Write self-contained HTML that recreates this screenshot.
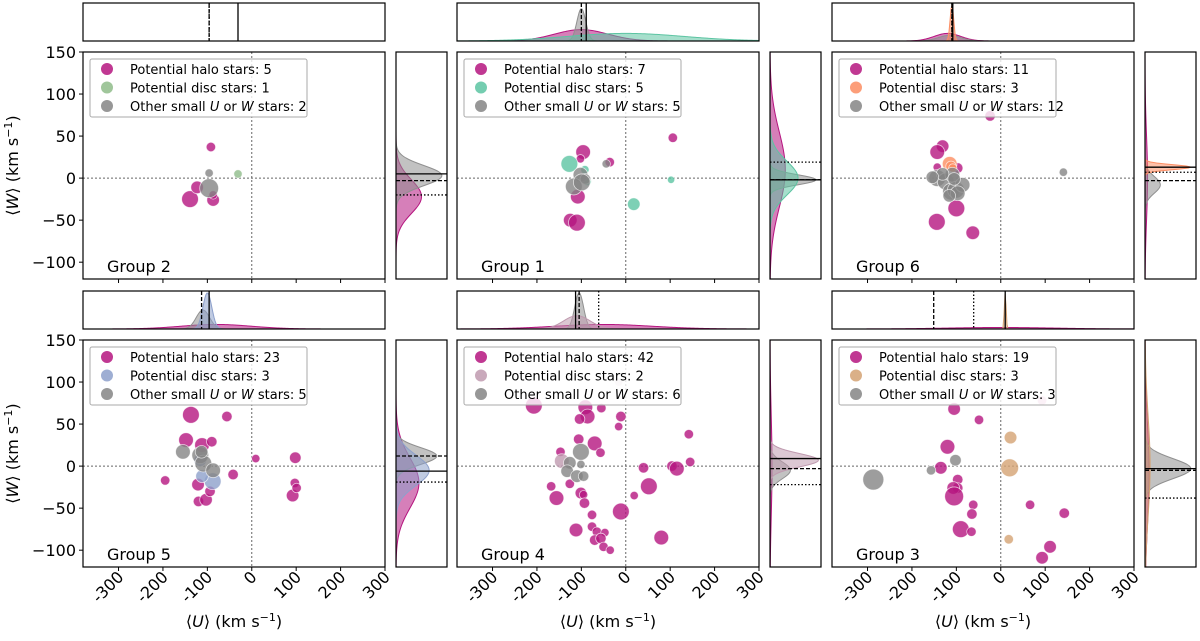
<!DOCTYPE html>
<html><head><meta charset="utf-8">
<style>
html,body{margin:0;padding:0;background:#fff;}
svg{display:block;font-family:"DejaVu Sans","Liberation Sans",sans-serif;}
</style></head>
<body>
<svg id="fig" width="1200" height="641" viewBox="0 0 1200 641" xmlns="http://www.w3.org/2000/svg"></svg>
<script>
// ---- data arrays ----
const groupNames = ["Group 2","Group 1","Group 6","Group 5","Group 4","Group 3"];
const haloCounts = [5,7,11,23,42,19];
const discCounts = [1,5,3,3,2,3];
const otherCounts = [2,5,12,5,6,3];
const discColors = ["#8fbc8a","#5cc4a2","#fc8d62","#8da0cb","#bf9aaf","#d4a273"];
// points: [U, W, size]
const haloPts = [
 [[-92,37,4.5],[-139,-25,8],[-123,-11,6],[-87,-26,6],[-87,-20,4]],
 [[106,48,4.5],[-96,31,7],[-102,23,4],[-36,19,4.5],[-108,-22,7],[-125,-50,6.5],[-110,-53,8]],
 [[-24,74,5],[-131,38,6],[-143,31,7],[-97,12,5],[-143,13,4],[-100,-36,8],[-144,-52,8],[-63,-65,6.5]],
 [[-137,61,8],[-56,59,5],[-148,31,7],[-112,25,7],[-90,29,5],[9,9,4],[98,10,5.5],[-195,-17,4.5],[-42,-10,5],[97,-20,4.5],[92,-35,6],[-121,-22,6],[-120,-42,5],[-103,-40,6],[101,-26,4.5],[-94,-30,5]],
 [[-207,72,8],[-91,70,7],[-86,59,7],[-104,56,5],[-55,69,4.5],[-11,59,5],[-16,47,4],[-106,32,5],[-70,27,7],[-57,16,4.5],[-147,17,4.5],[142,38,4.5],[145,5,4.5],[40,-2,5],[104,0,5],[115,-3,7],[52,-24,8],[19,-35,4],[-168,-24,4.5],[-156,-38,7],[-126,-21,4.5],[-101,-32,5.5],[-95,-34,4],[-93,-44,5],[-76,-58,4.5],[-11,-54,8],[-112,-76,6.5],[-76,-72,4.5],[-65,-78,4.5],[-47,-79,4],[-70,-88,5],[-56,-86,5],[-50,-96,4.5],[-35,-100,4],[80,-85,7]],
 [[-105,68,6],[-49,55,4.5],[-120,23,7],[-135,-2,6],[-97,-16,5],[-97,-26,5],[-107,-26,6],[-105,-36,9],[-62,-46,4.5],[-65,-57,5],[-90,-75,8],[-66,-78,4.5],[66,-46,4.5],[143,-56,5],[111,-96,6],[93,-109,6],[93,78,4.5]]
];
const discPts = [
 [[-31,5,4]],
 [[-127,17,8],[-92,10,4],[102,-2,3.5],[18,-31,6],[-87,-4,4]],
 [[-115,17,7],[-112,14,5],[-108,12,4]],
 [[-88,-18,8],[-116,7,6],[-112,-12,6]],
 [[-16,100,4],[-144,6,7]],
 [[22,34,6],[20,-2,8.5],[18,-87,4.5]]
];
const otherPts = [
 [[-96,6,4],[-96,-12,9]],
 [[-44,17,4],[-102,4,7],[-91,-1,5],[-117,-10,8],[-99,-5,8]],
 [[141,7,4],[-143,0,8],[-124,-4,8],[-109,4,7],[-112,-16,8],[-101,-14,8],[-86,-8,7],[-131,5,6],[-97,-18,7],[-105,-1,6],[-154,1,6],[-116,-21,6]],
 [[-155,17,7],[-116,13,8],[-109,3,8],[-87,-5,7],[-113,17,6]],
 [[-101,17,8],[-126,4,6],[-132,-6,6],[-110,-12,6],[-95,-12,5],[-101,2,4]],
 [[-287,-16,10],[-157,-5,4.5],[-102,7,5.5]]
];
// marginal density components: [mean, sigma, peak]
const topHalo = [[0,1,0],[-100,60,0.3],[-120,30,0.2],[-80,80,0.12],[-50,110,0.12],[0,120,0.04]];
const topDisc = [[0,1,0],[0,130,0.2],[-110,4,0.95],[-100,10,0.95],[-110,30,0.35],[10,2,0.95]];
const topOther = [[0,1,0],[-100,10,0.85],[-115,25,0.15],[-110,15,0.5],[-105,10,0.95],[0,1,0]];
const rightHalo = [[-22,20,0.5],[10,45,0.3],[0,50,0.05],[-20,30,0.45],[0,60,0.04],[-10,60,0.08]];
const rightDisc = [[5,8,0],[0,20,0.55],[13,3,0.9],[-5,18,0.65],[7,8,0.95],[0,60,0.1]];
const rightOther = [[3,12,0.9],[-2,6,0.9],[-8,10,0.3],[12,10,0.8],[-5,10,0.4],[-3,12,0.9]];
// mean lines: [solid, dashed, dotted]
const topLines = [[-31,-96,-96],[-89,-100,null],[-108,-110,-110],[-96,-113,null],[-113,-105,-61],[10,-151,-61]];
const rightLines = [[5,-3,-20],[-2,-2,19],[13,-3,7],[-6,12,-19],[9,-3,-22],[-3,-5,-38]];
const xTicks = [-300,-200,-100,0,100,200,300];
const yTicks = [150,100,50,0,-50,-100];

// ---- layout ----
const NS="http://www.w3.org/2000/svg";
const svg=document.getElementById('fig');
const colX=[83,457,832], rowY=[52,340];
const PW=302, PH=227, XMIN=-380, XMAX=300, YMIN=-120, YMAX=150;
const HALO="#b5157f";
function mk(tag,attrs,parent){const e=document.createElementNS(NS,tag);for(const k in attrs)e.setAttribute(k,attrs[k]);(parent||svg).appendChild(e);return e;}
function gauss(c,v){return c[2]*Math.exp(-0.5*Math.pow((v-c[0])/c[1],2));}

for(let g=0;g<6;g++){
  const x0=colX[g%3], y0=rowY[Math.floor(g/3)];
  const sx=u=>x0+(u-XMIN)/(XMAX-XMIN)*PW;
  const sy=w=>y0+(YMAX-w)/(YMAX-YMIN)*PH;
  const grp=mk('g',{});
  
  
  const zl=mk('line',{x1:sx(0),x2:sx(0),y1:y0,y2:y0+PH,stroke:'#666','stroke-width':1,'stroke-dasharray':'2,2'},grp);
  
  
  const zw=mk('line',{x1:x0,x2:x0+PW,y1:sy(0),y2:sy(0),stroke:'#666','stroke-width':1,'stroke-dasharray':'2,2'},grp);
  
  
  const sets=[[haloPts[g],HALO,'halo'],[discPts[g],discColors[g],'disc'],[otherPts[g],'#858585','other']];
  for(const [pts,col,nm] of sets){
    for(const p of pts){
      const c=mk('circle',{cx:sx(p[0]),cy:sy(p[1]),r:p[2]*1.05,fill:col,'fill-opacity':(p[1]>70&&nm!=='other'&&p[2]<5?0.3:0.8),stroke:'#fff','stroke-opacity':0.7,'stroke-width':0.8},grp);
      
      
    }
  }
  const fr=mk('rect',{x:x0,y:y0,width:PW,height:PH,fill:'none',stroke:'#000','stroke-width':1.2},grp);
  
  
  for(const t of xTicks){
    mk('line',{x1:sx(t),x2:sx(t),y1:y0+PH,y2:y0+PH+4,stroke:'#000'},grp);
    if(g>=3){
      const tx=mk('text',{x:0,y:0,'font-size':16,'text-anchor':'end',transform:`translate(${sx(t)+6},${y0+PH+11}) rotate(-45)`},grp);
      tx.textContent=String(t);
      
      
    }
  }
  if(g%3===0){
    for(const t of yTicks){
      mk('line',{x1:x0-4,x2:x0,y1:sy(t),y2:sy(t),stroke:'#000'},grp);
      const ty=mk('text',{x:x0-7,y:sy(t)+6,'font-size':16,'text-anchor':'end'},grp);
      ty.textContent=t<0?'\u2212'+(-t):String(t);
      
      
    }
  }
  if(g>=3){
    const xl=mk('text',{x:x0+PW/2,y:y0+PH+60,'font-size':16,'text-anchor':'middle'},grp);
    xl.innerHTML='\u27E8<tspan font-style="italic">U</tspan>\u27E9 (km s<tspan dy="-6" font-size="11">\u22121</tspan><tspan dy="6">)</tspan>';
    
    
  }
  const gl=mk('text',{x:x0+24,y:y0+220,'font-size':16},grp);
  gl.textContent=groupNames[g];
  
  
  const lg=mk('g',{},grp);
  
  
  mk('rect',{x:x0+7,y:y0+7,width:217,height:58,fill:'#fff','fill-opacity':0.8,stroke:'#aaa','stroke-width':1,rx:2},lg);
  const labels=['Potential halo stars: '+haloCounts[g],'Potential disc stars: '+discCounts[g],null];
  const cols=[HALO,discColors[g],'#858585'];
  for(let i=0;i<3;i++){
    const yy=y0+17+i*18.5;
    const m=mk('circle',{cx:x0+24,cy:yy,r:6,fill:cols[i],'fill-opacity':0.85},lg);
    
    
    const t=mk('text',{x:x0+47,y:yy+5,'font-size':13},lg);
    if(labels[i]) t.textContent=labels[i];
    else t.innerHTML='Other small <tspan font-style="italic">U</tspan> or <tspan font-style="italic">W</tspan> stars: '+otherCounts[g];
    
    
  }
  const ty0=y0-49, th=38;
  const tg=mk('g',{},grp);
  
  
  const comps=[[topHalo[g],HALO],[topOther[g],'#909090'],[topDisc[g],discColors[g]]];
  for(const [c,col] of comps){
    if(!c[2])continue;
    let d=`M${x0},${ty0+th}`;
    for(let i=0;i<=PW;i+=1){const u=XMIN+i/PW*(XMAX-XMIN);d+=` L${x0+i},${ty0+th-gauss(c,u)*th}`;}
    d+=` L${x0+PW},${ty0+th} Z`;
    const p=mk('path',{d:d,fill:col,'fill-opacity':0.55,stroke:col,'stroke-width':1},tg);
    
    
  }
  const dash=['none','4,2','1.5,2'];
  topLines[g].forEach((v,i)=>{ if(v===null)return;
    const l=mk('line',{x1:sx(v),x2:sx(v),y1:ty0,y2:ty0+th,stroke:'#000','stroke-width':1.3,'stroke-dasharray':dash[i]},tg);
    
    });
  mk('rect',{x:x0,y:ty0,width:PW,height:th,fill:'none',stroke:'#000','stroke-width':1.2},tg);
  const rx0=x0+313, rw=51;
  const rg=mk('g',{},grp);
  
  
  const rcomps=[[rightHalo[g],HALO],[rightOther[g],'#909090'],[rightDisc[g],discColors[g]]];
  for(const [c,col] of rcomps){
    if(!c[2])continue;
    let d=`M${rx0},${y0}`;
    for(let i=0;i<=PH;i+=1){const w=YMAX-i/PH*(YMAX-YMIN);d+=` L${rx0+gauss(c,w)*rw},${y0+i}`;}
    d+=` L${rx0},${y0+PH} Z`;
    const p=mk('path',{d:d,fill:col,'fill-opacity':0.55,stroke:col,'stroke-width':1},rg);
    
    
  }
  rightLines[g].forEach((v,i)=>{ if(v===null)return;
    const l=mk('line',{x1:rx0,x2:rx0+rw,y1:sy(v),y2:sy(v),stroke:'#000','stroke-width':1.3,'stroke-dasharray':dash[i]},rg);
    
    });
  mk('rect',{x:rx0,y:y0,width:rw,height:PH,fill:'none',stroke:'#000','stroke-width':1.2},rg);
}
for(const y0 of rowY){
  const t=mk('text',{x:0,y:0,'font-size':16,'text-anchor':'middle',transform:`translate(18,${y0+PH/2}) rotate(-90)`});
  t.innerHTML='\u27E8<tspan font-style="italic">W</tspan>\u27E9 (km s<tspan dy="-6" font-size="11">\u22121</tspan><tspan dy="6">)</tspan>';
  
  
}
</script>
</body></html>
